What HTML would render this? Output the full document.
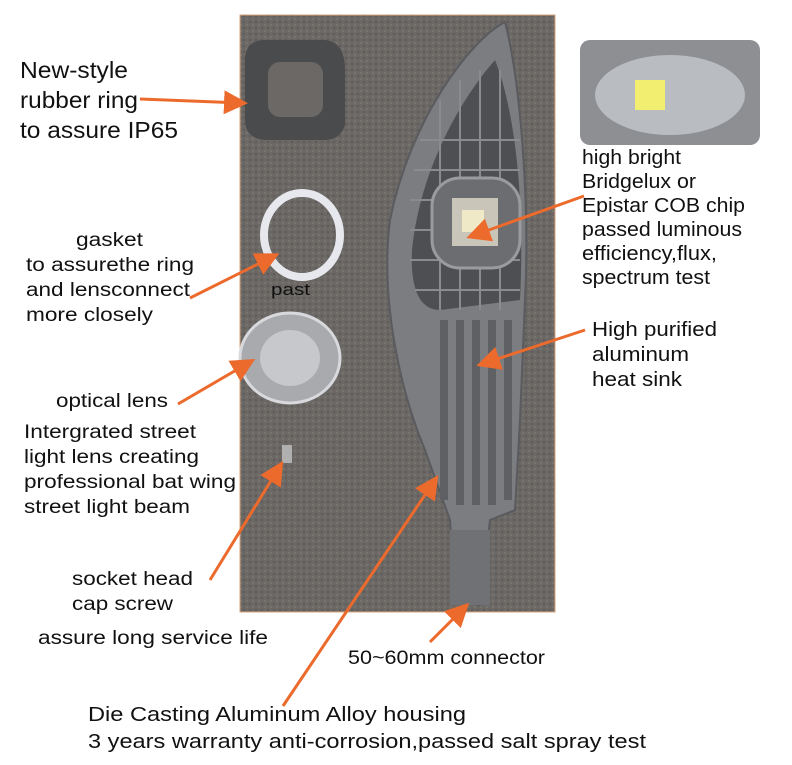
<!DOCTYPE html>
<html><head><meta charset="utf-8"><style>
html,body{margin:0;padding:0;background:#fff;}
body{width:792px;height:765px;overflow:hidden;position:relative;font-family:"Liberation Sans",sans-serif;color:#111;}
svg{position:absolute;left:0;top:0;}
</style></head><body>
<svg width="792" height="765" viewBox="0 0 792 765" xmlns="http://www.w3.org/2000/svg">
<defs>
<marker id="ah" markerWidth="8" markerHeight="8" refX="6" refY="4" orient="auto" markerUnits="strokeWidth">
<path d="M0,0 L8,4 L0,8 z" fill="#ec6a2c"/></marker>
<pattern id="carpet" width="6" height="6" patternUnits="userSpaceOnUse">
<rect width="6" height="6" fill="#6b6866"/><rect x="0" y="0" width="2" height="2" fill="#77736f"/><rect x="3" y="3" width="2" height="2" fill="#5d5a58"/></pattern>
</defs>
<rect x="240" y="15" width="315" height="597" fill="url(#carpet)" stroke="#d9a47a" stroke-width="1"/>
<path d="M505,22 C470,40 410,120 390,220 C380,300 400,390 425,450 L450,520 L455,600 L480,605 L490,520 L515,510 L520,420 L525,300 C530,200 520,80 505,22 Z" fill="#7c7d80" stroke="#5a5b5e" stroke-width="2"/>
<path d="M495,60 C460,100 420,170 412,250 C410,290 420,310 440,310 L520,300 C525,200 515,110 495,60 Z" fill="#4e4f52"/>
<g stroke="#8a8b8e" stroke-width="2">
<line x1="420" y1="140" x2="520" y2="140"/><line x1="414" y1="170" x2="520" y2="170"/><line x1="410" y1="200" x2="520" y2="200"/><line x1="410" y1="230" x2="520" y2="230"/><line x1="410" y1="260" x2="520" y2="260"/><line x1="415" y1="290" x2="520" y2="290"/>
<line x1="440" y1="100" x2="440" y2="310"/><line x1="460" y1="80" x2="460" y2="310"/><line x1="480" y1="70" x2="480" y2="310"/><line x1="500" y1="70" x2="500" y2="310"/></g>
<rect x="432" y="178" width="88" height="90" rx="28" fill="#6c6d70" stroke="#9a9b9e" stroke-width="3"/>
<rect x="452" y="198" width="46" height="48" fill="#c9c5b8"/><rect x="462" y="210" width="22" height="22" fill="#efe9c8"/>
<g fill="#5f6063"><rect x="440" y="320" width="8" height="180"/><rect x="456" y="320" width="8" height="185"/><rect x="472" y="320" width="8" height="185"/><rect x="488" y="320" width="8" height="185"/><rect x="504" y="320" width="8" height="180"/></g>
<rect x="450" y="530" width="40" height="75" fill="#707174"/>
<path d="M262,40 L325,40 Q345,42 345,70 L345,125 Q340,140 325,140 L265,140 Q245,138 245,120 L245,60 Q245,42 262,40 Z" fill="#4a4b4d"/>
<rect x="268" y="62" width="55" height="55" rx="12" fill="#6b6866"/>
<ellipse cx="302" cy="235" rx="38" ry="42" fill="none" stroke="#e6e8ee" stroke-width="8"/>
<ellipse cx="290" cy="358" rx="50" ry="45" fill="#a8aaad" stroke="#d8d9dc" stroke-width="3"/>
<ellipse cx="290" cy="358" rx="30" ry="28" fill="#c6c8cb"/>
<rect x="282" y="445" width="10" height="18" fill="#b0b0b0"/>
<rect x="580" y="40" width="180" height="105" rx="10" fill="#8d8f93"/>
<ellipse cx="670" cy="95" rx="75" ry="40" fill="#b9bcc0"/>
<rect x="635" y="80" width="30" height="30" fill="#f2ee70"/>
<g stroke="#ec6a2c" stroke-width="3" fill="none" marker-end="url(#ah)">
<line x1="140" y1="99" x2="242" y2="103"/>
<line x1="190" y1="298" x2="274" y2="256"/>
<line x1="178" y1="404" x2="250" y2="362"/>
<line x1="210" y1="580" x2="280" y2="466"/>
<line x1="283" y1="706" x2="435" y2="480"/>
<line x1="430" y1="642" x2="465" y2="607"/>
<line x1="584" y1="196" x2="472" y2="236"/>
<line x1="585" y1="330" x2="482" y2="364"/>
</g>
<g font-family="Liberation Sans, sans-serif" fill="#111">
<g font-size="23"><text x="20" y="78" textLength="108" lengthAdjust="spacingAndGlyphs">New-style</text><text x="20" y="108" textLength="118" lengthAdjust="spacingAndGlyphs">rubber ring</text><text x="20" y="138" textLength="158" lengthAdjust="spacingAndGlyphs">to assure IP65</text></g>
<g font-size="19">
<text x="76" y="246" textLength="67" lengthAdjust="spacingAndGlyphs">gasket</text>
<text x="26" y="271" textLength="168" lengthAdjust="spacingAndGlyphs">to assurethe ring</text>
<text x="26" y="296" textLength="164" lengthAdjust="spacingAndGlyphs">and lensconnect</text>
<text x="26" y="321" textLength="127" lengthAdjust="spacingAndGlyphs">more closely</text>
<text x="271" y="295" font-size="17" textLength="39" lengthAdjust="spacingAndGlyphs">past</text>
<text x="56" y="407" textLength="112" lengthAdjust="spacingAndGlyphs">optical lens</text>
<text x="24" y="438" textLength="172" lengthAdjust="spacingAndGlyphs">Intergrated street</text>
<text x="24" y="463" textLength="175" lengthAdjust="spacingAndGlyphs">light lens creating</text>
<text x="24" y="488" textLength="212" lengthAdjust="spacingAndGlyphs">professional bat wing</text>
<text x="24" y="513" textLength="166" lengthAdjust="spacingAndGlyphs">street light beam</text>
<text x="72" y="585" textLength="121" lengthAdjust="spacingAndGlyphs">socket head</text>
<text x="72" y="610" textLength="101" lengthAdjust="spacingAndGlyphs">cap screw</text>
<text x="38" y="644" textLength="230" lengthAdjust="spacingAndGlyphs">assure long service life</text>
<text x="348" y="664" textLength="197" lengthAdjust="spacingAndGlyphs">50~60mm connector</text>
</g>
<g font-size="20">
<text x="582" y="164" textLength="99" lengthAdjust="spacingAndGlyphs">high bright</text>
<text x="582" y="188" textLength="114" lengthAdjust="spacingAndGlyphs">Bridgelux or</text>
<text x="582" y="212" textLength="163" lengthAdjust="spacingAndGlyphs">Epistar COB chip</text>
<text x="582" y="236" textLength="160" lengthAdjust="spacingAndGlyphs">passed luminous</text>
<text x="582" y="260" textLength="135" lengthAdjust="spacingAndGlyphs">efficiency,flux,</text>
<text x="582" y="284" textLength="128" lengthAdjust="spacingAndGlyphs">spectrum test</text>
<text x="592" y="336" textLength="125" lengthAdjust="spacingAndGlyphs">High purified</text>
<text x="592" y="361" textLength="97" lengthAdjust="spacingAndGlyphs">aluminum</text>
<text x="592" y="386" textLength="90" lengthAdjust="spacingAndGlyphs">heat sink</text>
<text x="88" y="721" textLength="378" lengthAdjust="spacingAndGlyphs">Die Casting Aluminum Alloy housing</text><text x="88" y="748" textLength="558" lengthAdjust="spacingAndGlyphs">3 years warranty anti-corrosion,passed salt spray test</text></g>
</g>
</svg>
</body></html>
